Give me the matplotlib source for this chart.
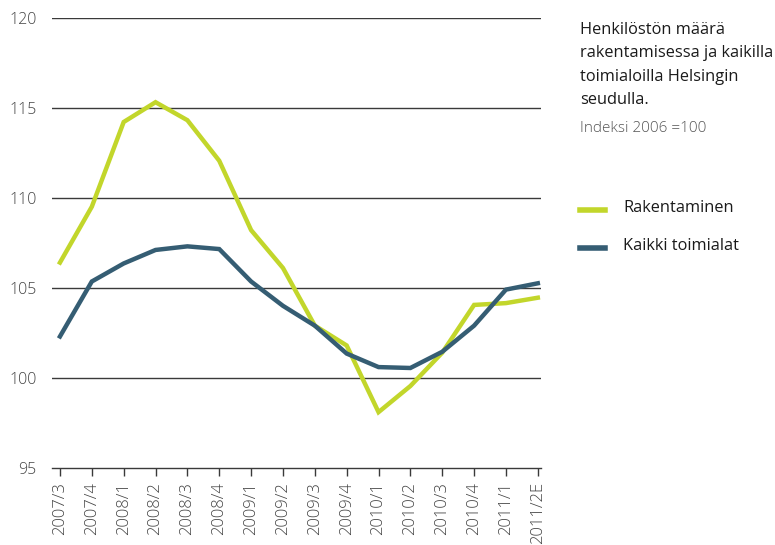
import matplotlib
matplotlib.use("Agg")
import matplotlib.pyplot as plt

plt.rcParams['font.family'] = ['Open Sans', 'DejaVu Sans']

# neljännekset
kaudet = ['2007/3', '2007/4', '2008/1', '2008/2', '2008/3', '2008/4',
          '2009/1', '2009/2', '2009/3', '2009/4', '2010/1', '2010/2',
          '2010/3', '2010/4', '2011/1', '2011/2E']

# indeksi 2006=100
rakentaminen = [106.4, 109.5, 114.2, 115.3, 114.3, 112.05, 108.2, 106.1,
                102.9, 101.8, 98.1, 99.55, 101.4, 104.05, 104.15, 104.45]
kaikki = [102.3, 105.35, 106.35, 107.1, 107.3, 107.15, 105.35, 104.0,
          102.9, 101.35, 100.6, 100.55, 101.45, 102.9, 104.9, 105.25]

vihrea = '#c2d62b'
sininen = '#355d73'

fig = plt.figure(figsize=(7.75, 5.45), dpi=100)
ax = fig.add_axes([52/775, 1-468/545, (541-52)/775, (468-17.5)/545])

x = list(range(len(kaudet)))
ax.plot(x, rakentaminen, color=vihrea, lw=3.2, solid_joinstyle='miter', zorder=3)
ax.plot(x, kaikki, color=sininen, lw=3.2, solid_joinstyle='miter', zorder=4)

ax.set_ylim(95, 120)
ax.set_xlim(-0.25, 15.1)
ax.set_yticks([95, 100, 105, 110, 115, 120])
for v in [100, 105, 110, 115, 120]:
    ax.axhline(v, color='#3a3a3a', lw=1.0, zorder=1)

for s in ['left', 'right', 'top']:
    ax.spines[s].set_visible(False)
ax.spines['bottom'].set_color('#3a3a3a')
ax.spines['bottom'].set_linewidth(1.0)

ax.set_xticks(x)
ax.set_xticklabels(kaudet, rotation=90, fontsize=12, color='#444444', fontweight='light')
ax.tick_params(axis='x', direction='out', length=6, width=1, color='#3a3a3a', pad=4)
ax.tick_params(axis='y', length=0, labelsize=11.5, labelcolor='#444444', pad=11)
for t in ax.get_yticklabels():
    t.set_fontweight('light')

fig.text(580/775, 1-22/545, 'Henkilöstön määrä\nrakentamisessa ja kaikilla\ntoimialoilla Helsingin\nseudulla.',
         fontsize=11.8, color='#1a1a1a', va='top', ha='left', linespacing=1.62)
fig.text(580/775, 1-128/545, 'Indeksi 2006 =100', fontsize=11, color='#555555', va='center', ha='left',
         fontweight='light')

fig.lines.append(plt.Line2D([580/775, 605/775], [1-210/545, 1-210/545], color=vihrea, lw=4, transform=fig.transFigure))
fig.lines.append(plt.Line2D([580/775, 605/775], [1-248/545, 1-248/545], color=sininen, lw=4, transform=fig.transFigure))
fig.text(623/775, 1-208/545, 'Rakentaminen', fontsize=11.8, color='#1a1a1a', va='center')
fig.text(623/775, 1-246/545, 'Kaikki toimialat', fontsize=11.8, color='#1a1a1a', va='center')

fig.savefig('out.png', dpi=100)
